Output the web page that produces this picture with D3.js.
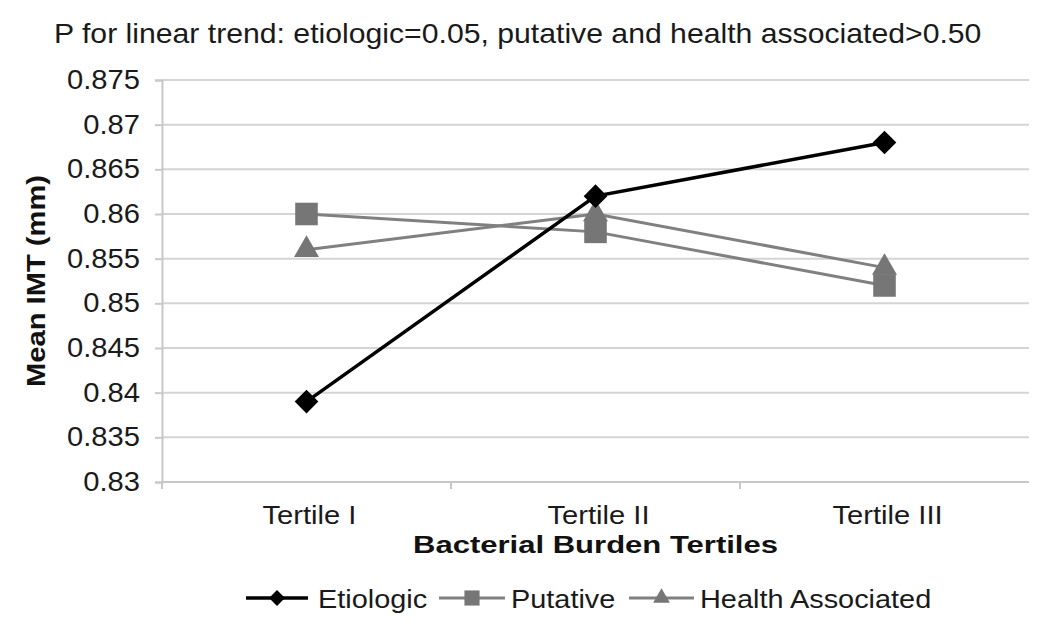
<!DOCTYPE html>
<html>
<head>
<meta charset="utf-8">
<script src="https://cdn.jsdelivr.net/npm/d3@7"></script>
<style>
  body { margin: 0; background: #fff; }
  svg { font-family: "Liberation Sans", Arial, sans-serif; }
</style>
</head>
<body>
<svg id="chart"></svg>
<script>
/* data */
const categories = ['Tertile I', 'Tertile II', 'Tertile III']
const etiologic = [0.839, 0.862, 0.868]
const putative = [0.860, 0.858, 0.852]
const healthAssociated = [0.856, 0.860, 0.854]
const yTicks = [0.83, 0.835, 0.84, 0.845, 0.85, 0.855, 0.86, 0.865, 0.87, 0.875]

const seriesNames = ['Etiologic', 'Putative', 'Health Associated']
const seriesValues = [etiologic, putative, healthAssociated]

const width = 1050, height = 635
const margin = {top: 80, right: 21, bottom: 153, left: 162}

const svg = d3.select('#chart').attr('width', width).attr('height', height)

/* élargit le texte horizontalement (le texte de l'image est un peu étiré) */
const stretch = (sel, f) => {
  sel.each(function () {
    const w = this.getComputedTextLength()
    d3.select(this).attr('textLength', w * f).attr('lengthAdjust', 'spacingAndGlyphs')
  })
}

const xScale = d3.scaleBand()
  .domain(categories)
  .range([margin.left, width - margin.right])
  .padding(0)

const yScale = d3.scaleLinear()
  .domain([0.83, 0.875])
  .range([height - margin.bottom, margin.top])

const cx = (c) => xScale(c) + xScale.bandwidth() / 2

/* grille */
svg.append('g')
  .selectAll('line')
  .data(yTicks)
  .enter()
  .append('line')
  .attr('x1', margin.left)
  .attr('x2', width - margin.right)
  .attr('y1', d => yScale(d))
  .attr('y2', d => yScale(d))
  .attr('stroke', '#d4d4d4')
  .attr('stroke-width', 2)

/* axe y */
const yAxis = svg.append('g')
  .attr('transform', 'translate(' + margin.left + ',0)')
  .call(d3.axisLeft(yScale).tickValues(yTicks).tickSize(7).tickPadding(15)
    .tickFormat(d => d3.format('')(+d.toFixed(3))))
yAxis.select('.domain').attr('stroke', '#c8c8c8').attr('stroke-width', 2)
yAxis.selectAll('.tick line').attr('stroke', '#c8c8c8').attr('stroke-width', 2)
yAxis.selectAll('text').attr('font-size', 27).attr('fill', '#1a1a1a').attr('font-family', null)
stretch(yAxis.selectAll('text'), 1.08)

/* axe x : ticks between categories */
const xAxis = svg.append('g')
  .attr('transform', 'translate(0,' + (height - margin.bottom) + ')')
xAxis.append('line')
  .attr('x1', margin.left).attr('x2', width - margin.right)
  .attr('stroke', '#c8c8c8').attr('stroke-width', 2)
xAxis.selectAll('.tk')
  .data(categories)
  .enter()
  .append('line')
  .attr('x1', d => xScale(d)).attr('x2', d => xScale(d))
  .attr('y1', 0).attr('y2', 7)
  .attr('stroke', '#c8c8c8').attr('stroke-width', 2)
const xLabels = xAxis.selectAll('text')
  .data(categories)
  .enter()
  .append('text')
  .attr('x', d => cx(d) + 3)
  .attr('y', 42)
  .attr('text-anchor', 'middle')
  .attr('font-size', 26.5)
  .attr('fill', '#1a1a1a')
  .text(d => d)
stretch(xLabels, 1.1)

/* titres */
svg.append('text')
  .attr('x', 54).attr('y', 43)
  .attr('font-size', 28)
  .attr('fill', '#1a1a1a')
  .text('P for linear trend: etiologic=0.05, putative and health associated>0.50')
  .call(stretch, 1.078)

svg.append('text')
  .attr('x', 595.5).attr('y', 553)
  .attr('text-anchor', 'middle')
  .attr('font-size', 23).attr('font-weight', 'bold')
  .attr('fill', '#111')
  .text('Bacterial Burden Tertiles')
  .attr('textLength', 365).attr('lengthAdjust', 'spacingAndGlyphs')

svg.append('text')
  .attr('transform', 'translate(45,281) rotate(-90)')
  .attr('text-anchor', 'middle')
  .attr('font-size', 25).attr('font-weight', 'bold')
  .attr('fill', '#111')
  .text('Mean IMT (mm)')
  .attr('textLength', 212).attr('lengthAdjust', 'spacingAndGlyphs')

/* styles des séries */
const colors = ['#000000', '#808080', '#808080']
const markerColors = ['#000000', '#767676', '#767676']
const markerSize = [280, 510, 270]

const line = d3.line()
  .x((d, i) => cx(categories[i]))
  .y(d => yScale(d))

const drawMarker = (g, s, x, y, k) => {
  const type = s === 2 ? d3.symbolTriangle : d3.symbolSquare
  g.append('path').attr('d', d3.symbol().type(type).size(markerSize[s] * k)())
    .attr('transform', 'translate(' + x + ',' + y + ')' + (s === 0 ? ' rotate(45)' : ''))
    .attr('fill', markerColors[s])
}

/* dessin dans l'ordre: putatif, health, étiologique au dessus */
;[1, 2, 0].forEach(s => {
  const g = svg.append('g')
  g.append('path')
    .datum(seriesValues[s])
    .attr('d', line)
    .attr('fill', 'none')
    .attr('stroke', colors[s])
    .attr('stroke-width', s === 0 ? 3.5 : 3)
  seriesValues[s].forEach((v, i) => drawMarker(g, s, cx(categories[i]), yScale(v), 1))
})

/* légende */
const legendItems = [
  {x1: 246, x2: 308, tx: 318},
  {x1: 439, x2: 505, tx: 511},
  {x1: 629, x2: 694, tx: 700}
]
const legend = svg.append('g').attr('transform', 'translate(0,598)')
legendItems.forEach((it, s) => {
  legend.append('line')
    .attr('x1', it.x1).attr('x2', it.x2)
    .attr('stroke', colors[s]).attr('stroke-width', s === 0 ? 3.5 : 3)
  drawMarker(legend, s, (it.x1 + it.x2) / 2, 0, 0.45)
  legend.append('text')
    .attr('x', it.tx).attr('y', 9.5)
    .attr('font-size', 26.5)
    .attr('fill', '#1a1a1a')
    .text(seriesNames[s])
    .call(stretch, 1.09)
})
</script>
</body>
</html>
